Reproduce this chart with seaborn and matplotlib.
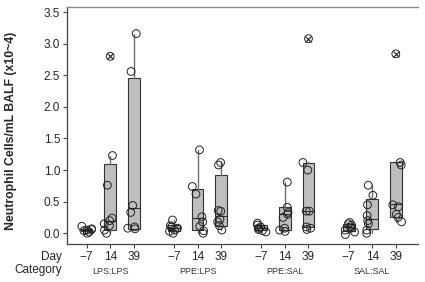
import numpy as np
import pandas as pd
import matplotlib
matplotlib.use("Agg")
import matplotlib.pyplot as plt
import seaborn as sns
from matplotlib.transforms import blended_transform_factory

# ---------------- data ----------------
categories = ["LPS:LPS", "PPE:LPS", "PPE:SAL", "SAL:SAL"]
days = ["\u22127", "14", "39"]

# individual observations (x10^4 cells/mL), per category: day -7, 14, 39
lps_lps = [[0.0, 0.02, 0.04, 0.05, 0.06, 0.07, 0.11],
           [0.0, 0.05, 0.12, 0.15, 0.20, 0.24, 0.76, 1.23, 2.80],
           [0.07, 0.08, 0.10, 0.33, 0.44, 2.56, 3.16]]
ppe_lps = [[0.0, 0.03, 0.05, 0.08, 0.10, 0.12, 0.21],
           [0.0, 0.04, 0.11, 0.18, 0.26, 0.62, 0.74, 1.32],
           [0.05, 0.12, 0.18, 0.22, 0.35, 0.36, 1.08, 1.12]]
ppe_sal = [[0.02, 0.04, 0.06, 0.08, 0.10, 0.13, 0.16],
           [0.03, 0.05, 0.08, 0.25, 0.30, 0.33, 0.41, 0.81],
           [0.06, 0.08, 0.10, 0.35, 0.35, 1.00, 1.12, 3.08]]
sal_sal = [[-0.02, 0.02, 0.05, 0.08, 0.10, 0.13, 0.15, 0.17],
           [0.0, 0.05, 0.15, 0.20, 0.28, 0.45, 0.60, 0.76],
           [0.18, 0.25, 0.30, 0.42, 0.45, 1.08, 1.12, 2.84]]

# box summaries (category-major, day-minor)
box_q1 = [0.03, 0.05, 0.06, 0.04, 0.05, 0.12, 0.05, 0.05, 0.10, 0.04, 0.06, 0.25]
box_med = [0.05, 0.20, 0.40, 0.08, 0.24, 0.28, 0.09, 0.30, 0.35, 0.10, 0.22, 0.46]
box_q3 = [0.07, 1.10, 2.45, 0.13, 0.70, 0.92, 0.13, 0.41, 1.11, 0.14, 0.55, 1.12]
whisk_lo = [0.0, 0.0, 0.06, 0.0, 0.0, 0.05, 0.02, 0.03, 0.07, 0.0, 0.0, 0.18]
whisk_hi = [0.11, 1.23, 3.16, 0.21, 1.32, 1.12, 0.16, 0.81, 1.12, 0.17, 0.76, 1.12]

# ---------------- style ----------------
sns.set_theme(style="ticks")
plt.rcParams["font.family"] = ["Liberation Sans", "DejaVu Sans"]

W, H = 425, 282
fig = plt.figure(figsize=(W / 100, H / 100), dpi=100)
ax = fig.add_axes([67 / W, 1 - 244 / H, (418 - 67) / W, (244 - 7.3) / H])

GROUP_STEP = 3.7
positions = [g * GROUP_STEP + d for g in range(len(categories)) for d in range(len(days))]

all_groups = [lps_lps, ppe_lps, ppe_sal, sal_sal]
rows = []
flat_vals = []
for g, grp in enumerate(all_groups):
    for d, vals in enumerate(grp):
        i = g * 3 + d
        flat_vals.append(vals)
        for v in vals:
            rows.append({"pos": positions[i], "value": v,
                         "outlier": v > whisk_hi[i]})
df = pd.DataFrame(rows)

stats = []
for i, vals in enumerate(flat_vals):
    stats.append(dict(q1=box_q1[i], med=box_med[i], q3=box_q3[i],
                      whislo=whisk_lo[i], whishi=whisk_hi[i],
                      fliers=[v for v in vals if v > whisk_hi[i]]))

ax.bxp(stats, positions=positions, widths=0.5, showcaps=False, patch_artist=True,
       manage_ticks=False,
       boxprops=dict(facecolor="#bebebe", edgecolor="#333333", linewidth=0.8),
       medianprops=dict(color="#333333", linewidth=0.8),
       whiskerprops=dict(color="#6e6e6e", linewidth=1.0),
       flierprops=dict(marker="x", markersize=4, markeredgecolor="#222222",
                       markeredgewidth=0.8, linestyle="none"))

np.random.seed(3)
sns.stripplot(data=df[~df["outlier"]], x="pos", y="value", native_scale=True, orient="x",
              jitter=0.27, size=5.6, facecolor="none", edgecolor="#222222",
              linewidth=0.7, ax=ax, zorder=3)
sns.stripplot(data=df[df["outlier"]], x="pos", y="value", native_scale=True, orient="x",
              jitter=False, size=5.6, facecolor="none", edgecolor="#222222",
              linewidth=0.7, ax=ax, zorder=3)

ax.set_xlim(-0.83, 14.04)
ax.set_ylim(-0.17, 3.576)
ax.set_yticks(np.arange(0, 3.51, 0.5))
ax.set_yticklabels([f"{v:.1f}" for v in np.arange(0, 3.51, 0.5)])
ax.set_xticks(positions)
ax.set_xticklabels(days * len(categories))
ax.set_xlabel("")
ax.set_ylabel("Neutrophil Cells/mL BALF (x10~4)", fontsize=8.8, fontweight="bold")
ax.yaxis.set_label_coords((17 - 67) / (418 - 67), 0.477)

ax.tick_params(axis="y", length=3, width=0.8, labelsize=8.5, pad=2, color="#444444")
ax.tick_params(axis="x", length=3, width=0.8, labelsize=8.5, pad=2, color="#444444")

ax.spines["right"].set_visible(False)
ax.spines["top"].set_color("#8a8a8a")
ax.spines["top"].set_linewidth(1.0)
for s in ["left", "bottom"]:
    ax.spines[s].set_color("#444444")
    ax.spines[s].set_linewidth(0.9)

fig.text(62 / W, 1 - 257 / H, "Day", ha="right", va="center", fontsize=8.5)
fig.text(62 / W, 1 - 270 / H, "Category", ha="right", va="center", fontsize=8.5)

trans = blended_transform_factory(ax.transData, fig.transFigure)
for g, cat in enumerate(categories):
    ax.text(g * GROUP_STEP + 1, 1 - 271 / H, cat, transform=trans,
            ha="center", va="center", fontsize=6.5, color="#333333")

fig.savefig("out.png", dpi=100)
